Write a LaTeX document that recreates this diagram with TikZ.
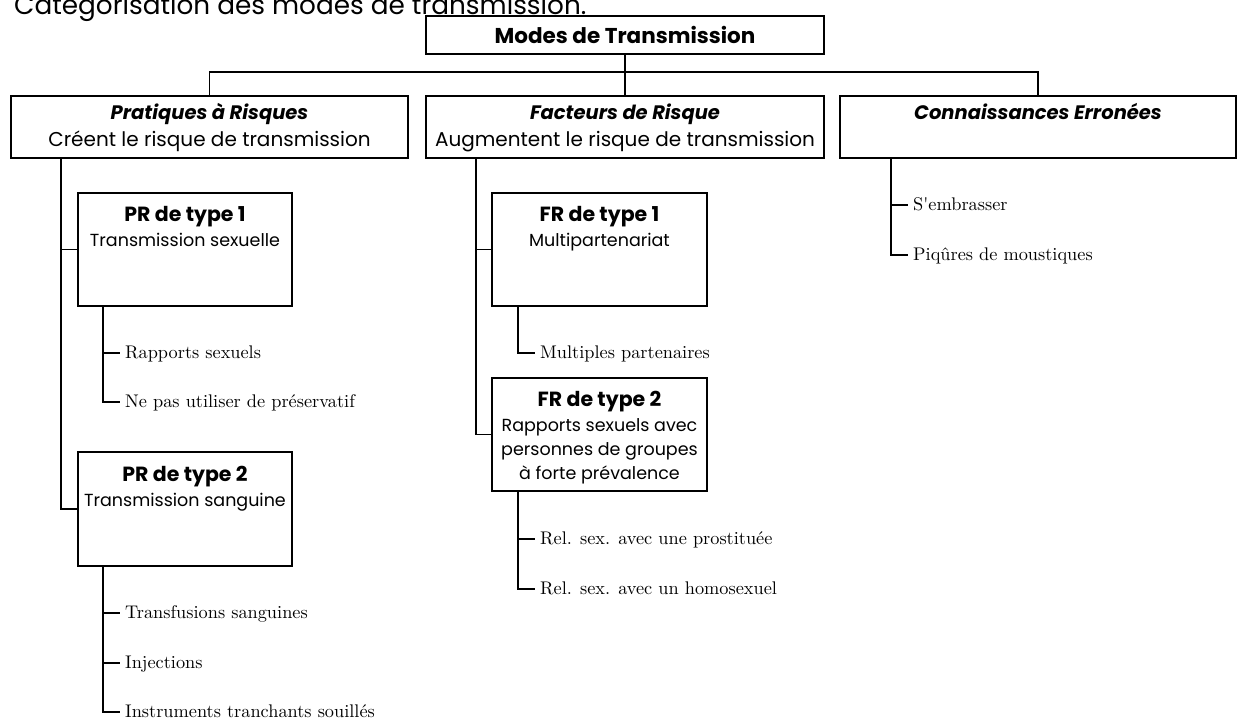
\documentclass[tikz,border=0pt]{standalone}
\usepackage{fontspec}
\newfontfamily\gothic{Poppins}
\newfontfamily\leaffont{lmroman10-regular}[Extension=.otf]
\usetikzlibrary{fit}

\begin{document}
\begin{tikzpicture}[x=1pt,y=-1pt,
  box/.style={draw, line width=1.5pt, inner sep=0pt},
  link/.style={line width=1.5pt},
  ttl/.style={font=\gothic\fontsize{26.3}{31}\selectfont, inner sep=0pt, anchor=base west},
  rootfont/.style={font=\gothic\bfseries\fontsize{21.5}{26}\selectfont, inner sep=0pt, anchor=base},
  headfont/.style={font=\gothic\bfseries\itshape\fontsize{19.5}{24}\selectfont, inner sep=0pt, anchor=base},
  big/.style={font=\gothic\fontsize{20}{24}\selectfont, inner sep=0pt, anchor=base},
  typefont/.style={font=\gothic\bfseries\fontsize{20.5}{24}\selectfont, inner sep=0pt, anchor=base},
  small/.style={font=\gothic\fontsize{17.5}{21}\selectfont, inner sep=0pt, anchor=base},
  leaf/.style={font=\leaffont\fontsize{18.3}{22}\selectfont, anchor=west, inner xsep=5pt, inner ysep=0pt, text height=10pt, text depth=0pt}
]
\useasboundingbox (0,0) rectangle (1240,720);

% heading, its upper part runs past the top edge of the page
\node[ttl] (title) at (14,14) {Catégorisation des modes de transmission.};

% root
\node[box, fit={(426,16) (824,54)}] (root) {};
\node[rootfont] (rootT) at (625,43) {Modes de Transmission};

% level one
\node[box, fit={(11,96) (408,158)}] (A) {};
\node[headfont] (A1) at (209.5,119) {Pratiques à Risques};
\node[big] (A2) at (209.5,146) {Créent le risque de transmission};

\node[box, fit={(426,96) (824,158)}] (B) {};
\node[headfont] (B1) at (625,119) {Facteurs de Risque};
\node[big] (B2) at (625,146) {Augmentent le risque de transmission};

\node[box, fit={(840,96) (1236,158)}] (C) {};
\node[headfont] (C1) at (1038,119) {Connaissances Erronées};

\coordinate (bus) at (625,72);
\draw[link] (root.south) -- (B.north);
\draw[link] (A.north) |- (bus) -| (C.north);

% risk practices
\node[box, fit={(78,193) (292,306)}] (PR1) {};
\node[typefont] (PR1a) at (185,221) {PR de type 1};
\node[small] (PR1b) at (185,246) {Transmission sexuelle};

\node[box, fit={(78,452) (292,566)}] (PR2) {};
\node[typefont] (PR2a) at (185,481) {PR de type 2};
\node[small] (PR2b) at (185,506) {Transmission sanguine};

\coordinate (Atr) at (61,158);
\draw[link] (Atr) |- (PR2.west);
\draw[link] (Atr |- PR1.west) -- (PR1.west);

\node[leaf] (l1) at (120,353) {Rapports sexuels};
\node[leaf] (l2) at (120,402) {Ne pas utiliser de préservatif};
\coordinate (P1tr) at (103,306);
\draw[link] (P1tr) |- (l2.west);
\draw[link] (P1tr |- l1.west) -- (l1.west);

\node[leaf] (l3) at (120,613) {Transfusions sanguines};
\node[leaf] (l4) at (120,663) {Injections};
\node[leaf] (l5) at (120,712) {Instruments tranchants souillés};
\coordinate (P2tr) at (103,566);
\draw[link] (P2tr) |- (l5.west);
\draw[link] (P2tr |- l3.west) -- (l3.west);
\draw[link] (P2tr |- l4.west) -- (l4.west);

% risk factors
\node[box, fit={(492,193) (707,306)}] (FR1) {};
\node[typefont] (FR1a) at (599.5,221) {FR de type 1};
\node[small] (FR1b) at (599.5,246) {Multipartenariat};

\node[box, fit={(492,378) (707,491)}] (FR2) {};
\node[typefont] (FR2a) at (599.5,406) {FR de type 2};
\node[small] (FR2b) at (599.5,431) {Rapports sexuels avec};
\node[small] (FR2c) at (599.5,455) {personnes de groupes};
\node[small] (FR2d) at (599.5,479) {à forte prévalence};

\coordinate (Btr) at (476,158);
\draw[link] (Btr) |- (FR2.west);
\draw[link] (Btr |- FR1.west) -- (FR1.west);

\node[leaf] (m1) at (535,353) {Multiples partenaires};
\coordinate (F1tr) at (518,306);
\draw[link] (F1tr) |- (m1.west);

\node[leaf] (m2) at (535,539) {Rel. sex. avec une prostituée};
\node[leaf] (m3) at (535,589) {Rel. sex. avec un homosexuel};
\coordinate (F2tr) at (518,491);
\draw[link] (F2tr) |- (m3.west);
\draw[link] (F2tr |- m2.west) -- (m2.west);

% misconceptions
\node[leaf] (c1) at (908,205) {S\textquotesingle embrasser};
\node[leaf] (c2) at (908,255) {Piqûres de moustiques};
\coordinate (Ctr) at (891,158);
\draw[link] (Ctr) |- (c2.west);
\draw[link] (Ctr |- c1.west) -- (c1.west);
\end{tikzpicture}
\end{document}
